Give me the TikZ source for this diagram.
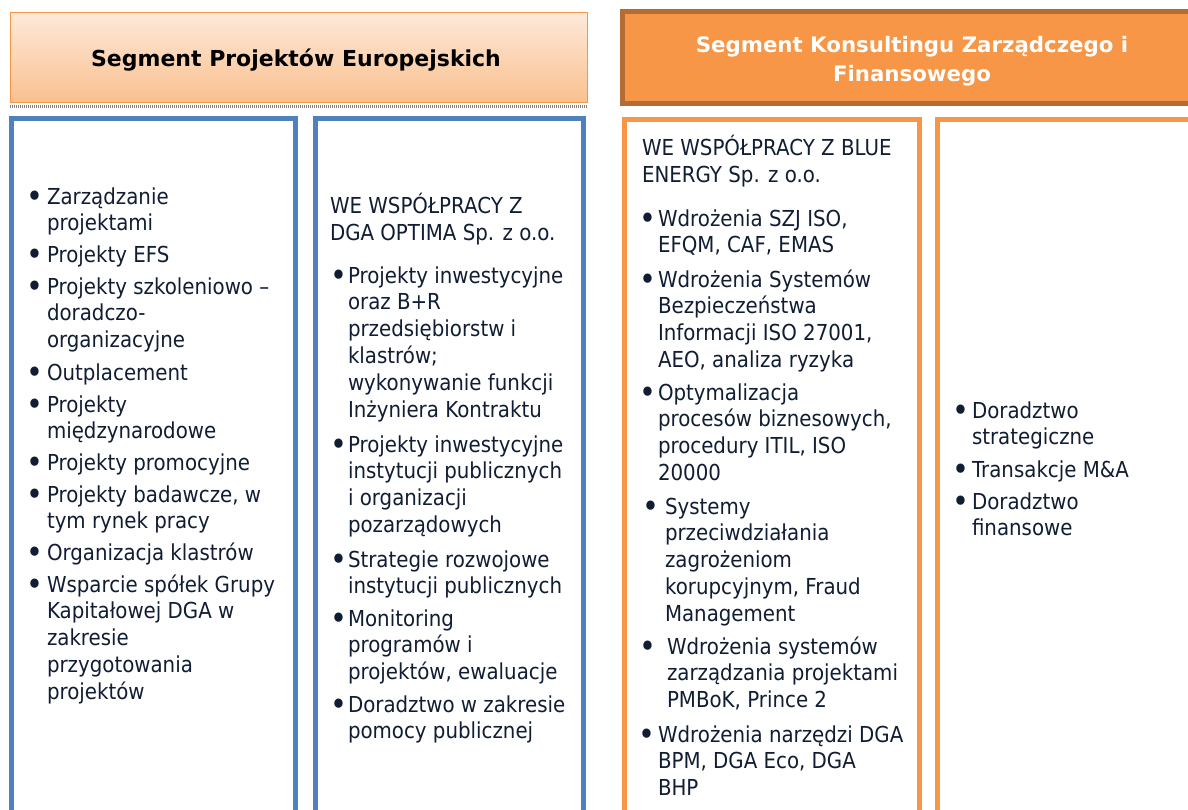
\documentclass[tikz,border=0pt]{standalone}
\usepackage{fontspec}
\setmainfont{DejaVu Sans}[FakeStretch=0.9]
\newfontfamily\titlefont{DejaVu Sans}
\definecolor{navy}{HTML}{111D33}
\definecolor{orA}{HTML}{F79646}
\definecolor{orB}{HTML}{B46C34}
\definecolor{blA}{HTML}{4F81BD}
\definecolor{pkTop}{HTML}{FDE9D9}
\definecolor{pkBot}{HTML}{FAC08F}
\newcommand\fsbody{\fontsize{22}{26.8}\selectfont}
\newcommand\fstitleL{\titlefont\fontsize{22}{29}\selectfont\bfseries}
\newcommand\fstitleR{\titlefont\fontsize{21.3}{29}\selectfont\bfseries}
\newcommand\bul{\raisebox{-3.2pt}{\scalebox{1.45}{•}}}
\newcommand\itm[5]{%
  \node[txt] (#1) at (#3,#4-20) {\rule{0pt}{20pt}#5};
  \node[txt] (#1b) at (#2-2.6,#4-20) {\rule{0pt}{20pt}\bul};}
\begin{document}
\begin{tikzpicture}[x=1pt,y=-1pt,
  txt/.style={anchor=north west, inner sep=0pt, outer sep=0pt, align=left, font=\fsbody, text=navy},
  bbox/.style={draw=blA, line width=5pt},
  obox/.style={draw=orA, line width=5pt},
  hdrL/.style={draw=orA, line width=1.5pt, top color=pkTop, bottom color=pkBot},
  hdrR/.style={fill=orA, draw=orB, line width=5pt}]
\clip (0,0) rectangle (1188,809);
\fill[white] (0,0) rectangle (1188,809);
% headers
\draw[hdrL] (10.5,12.5) rectangle (587.5,102.5);
\draw[gray, line width=3pt, dash pattern=on 1pt off 1pt] (10,106) -- (588,106);
\node[font=\fstitleL, text=black, anchor=base, inner sep=0pt] (tL) at (296,66) {Segment Projektów Europejskich};
\draw[hdrR] (622.5,11.5) rectangle (1200,103.5);
\node[font=\fstitleR, text=white, anchor=north, align=center, inner sep=0pt] (tR) at (912,32) {\rule{0pt}{20pt}Segment Konsultingu Zarządczego i\\Finansowego};
% boxes
\draw[bbox] (11.5,118.5) rectangle (295.5,830);
\draw[bbox] (315.5,118.5) rectangle (583.5,830);
\draw[obox] (624.5,119.5) rectangle (919.5,830);
\draw[obox] (937.5,119.5) rectangle (1200,830);
% box 1
\itm{a1}{29.4}{47}{204}{Zarządzanie\\projektami}
\itm{a2}{29.4}{47}{262}{Projekty EFS}
\itm{a3}{29.4}{47}{294}{Projekty szkoleniowo –\\doradczo-\\organizacyjne}
\itm{a4}{29.4}{47}{380}{Outplacement}
\itm{a5}{29.4}{47}{412}{Projekty\\międzynarodowe}
\itm{a6}{29.4}{47}{470}{Projekty promocyjne}
\itm{a7}{29.4}{47}{502}{Projekty badawcze, w\\tym rynek pracy}
\itm{a8}{29.4}{47}{560}{Organizacja klastrów}
\itm{a9}{29.4}{47}{592}{Wsparcie spółek Grupy\\Kapitałowej DGA w\\zakresie\\przygotowania\\projektów}
% box 2
\node[txt] (b0) at (330,193) {\rule{0pt}{20pt}WE WSPÓŁPRACY Z\\DGA OPTIMA Sp. z o.o.};
\itm{b1}{333.4}{348}{283}{Projekty inwestycyjne\\oraz B+R\\przedsiębiorstw i\\klastrów;\\wykonywanie funkcji\\Inżyniera Kontraktu}
\itm{b2}{333.4}{348}{452}{Projekty inwestycyjne\\instytucji publicznych\\i organizacji\\pozarządowych}
\itm{b3}{333.4}{348}{567}{Strategie rozwojowe\\instytucji publicznych}
\itm{b4}{333.4}{348}{626}{Monitoring\\programów i\\projektów, ewaluacje}
\itm{b5}{333.4}{348}{712}{Doradztwo w zakresie\\pomocy publicznej}
% box 3
\node[txt] (c0) at (642,135) {\rule{0pt}{20pt}WE WSPÓŁPRACY Z BLUE\\ENERGY Sp. z o.o.};
\itm{c1}{642.4}{658}{226}{Wdrożenia SZJ ISO,\\EFQM, CAF, EMAS}
\itm{c2}{642.4}{658}{287}{Wdrożenia Systemów\\Bezpieczeństwa\\Informacji ISO 27001,\\AEO, analiza ryzyka}
\itm{c3}{642.4}{658}{400}{Optymalizacja\\procesów biznesowych,\\procedury ITIL, ISO\\20000}
\itm{c4}{645.4}{665}{514}{Systemy\\przeciwdziałania\\zagrożeniom\\korupcyjnym, Fraud\\Management}
\itm{c5}{642.4}{667}{654}{Wdrożenia systemów\\zarządzania projektami\\PMBoK, Prince 2}
\itm{c6}{641.4}{658}{742}{Wdrożenia narzędzi DGA\\BPM, DGA Eco, DGA\\BHP}
% box 4
\itm{d1}{955.4}{972}{418}{Doradztwo\\strategiczne}
\itm{d2}{955.4}{972}{477}{Transakcje M\&A}
\itm{d3}{955.4}{972}{509}{Doradztwo\\finansowe}
\end{tikzpicture}
\end{document}
